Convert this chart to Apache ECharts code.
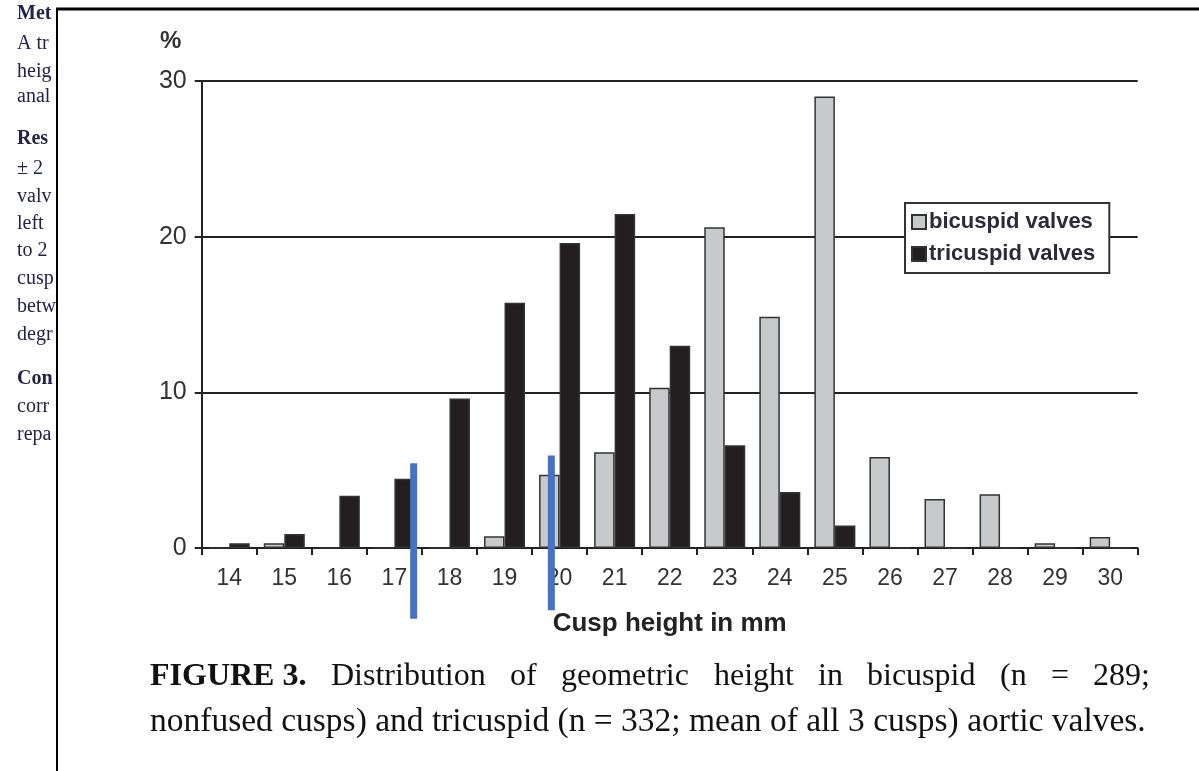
<!DOCTYPE html>
<html>
<head>
<meta charset="utf-8">
<script src="https://cdn.jsdelivr.net/npm/echarts@6/dist/echarts.min.js"></script>
<style>
html,body{margin:0;padding:0;background:#fff;}
#chart{width:1199px;height:771px;}
</style>
</head>
<body>
<div id="chart"></div>
<script>
// ---- data ----
var categories = ['14','15','16','17','18','19','20','21','22','23','24','25','26','27','28','29','30'];
var bicuspid  = [0, 0.3, 0, 0, 0, 0.75, 4.7, 6.15, 10.3, 20.6, 14.85, 29.0, 5.85, 3.15, 3.45, 0.3, 0.7];
var tricuspid = [0.3, 0.9, 3.35, 4.45, 9.6, 15.75, 19.6, 21.45, 13.0, 6.6, 3.6, 1.45, 0, 0, 0, 0, 0];
var yTicks = [0, 10, 20, 30];
// blue annotation lines: x in mm (axis units), y range in %
var markX   = [17.35, 19.85];
var markTop = [5.45, 5.95];
var markBot = [-4.55, -4.0];
var captionLine1 = ['FIGURE 3.', 'Distribution', 'of', 'geometric', 'height', 'in', 'bicuspid', '(n', '=', '289;'];
var captionLine2 = 'nonfused cusps) and tricuspid (n = 332; mean of all 3 cusps) aortic valves.';
var sideText = ['Met','A tr','heig','anal','Res','\u00b1 2','valv','left','to 2','cusp','betw','degr','Con','corr','repa'];

// ---- layout (not data) ----
var line1X = [150, 331, 510, 561, 714, 818, 867, 1000, 1051, 1150];
var sideY = [16, 46, 74, 99, 141, 171, 199, 226, 253, 281, 309, 337, 381, 409, 437];
var sideBold = {0:true, 4:true, 12:true};

var chart = echarts.init(document.getElementById('chart'));

var graphics = [];
sideText.forEach(function(t, i){
  graphics.push({type:'text', left:17, top:sideY[i]-12, z:1,
    style:{text:t, font:(sideBold[i]?'bold ':'')+'20px "Liberation Serif", serif', fill:'#22224a'}});
});
captionLine1.forEach(function(w, i){
  var last = i === captionLine1.length - 1;
  graphics.push({type:'text', x:line1X[i], y:677, z:1,
    style:{text:w, font:(i===0?'bold ':'')+'32px "Liberation Serif", serif', fill:'#111',
      textVerticalAlign:'middle', textAlign:last?'right':'left'}});
});
graphics.push({type:'text', x:150, y:722, z:1,
  style:{text:captionLine2, font:'33.5px "Liberation Serif", serif', fill:'#111', textVerticalAlign:'middle'}});
graphics.push({type:'line', z:5, shape:{x1:56, y1:9, x2:1199, y2:9}, style:{stroke:'#000', lineWidth:3}});
graphics.push({type:'line', z:5, shape:{x1:57, y1:8, x2:57, y2:771}, style:{stroke:'#000', lineWidth:2}});

var markSeries = markX.map(function(x, i){
  return {
    type:'line', xAxisIndex:1, yAxisIndex:0, clip:false, silent:true, z:10,
    symbol:'none', data:[[x, markBot[i]], [x, markTop[i]]],
    lineStyle:{color:'#4472c4', width:7, cap:'butt'}
  };
});

chart.setOption({
  animation:false,
  backgroundColor:'#fff',
  graphic:graphics,
  grid:{left:201.7, right:61.3, top:81, bottom:223, containLabel:false},
  legend:{
    orient:'vertical', left:905, top:203,
    data:['bicuspid valves','tricuspid valves'],
    icon:'rect', itemWidth:14, itemHeight:14, itemGap:10,
    padding:[8,14,8,6],
    backgroundColor:'#fff', borderColor:'#333', borderWidth:2,
    textStyle:{fontFamily:'"Liberation Sans", Arial, sans-serif', fontWeight:'bold', fontSize:22, color:'#2a2a3a', padding:[0,0,0,-2]}
  },
  xAxis:[{
    type:'category', data:categories, boundaryGap:true,
    axisLine:{lineStyle:{color:'#222', width:2}},
    axisTick:{show:true, length:7, lineStyle:{color:'#222', width:2}},
    axisLabel:{fontFamily:'"Liberation Sans Narrow", "Liberation Sans", Arial, sans-serif', fontSize:23, color:'#333', margin:19},
    name:'Cusp height in mm', nameLocation:'middle', nameGap:63,
    nameTextStyle:{fontFamily:'"Liberation Sans", Arial, sans-serif', fontWeight:'bold', fontSize:26, color:'#222'}
  },{
    type:'value', min:13.5, max:30.5, show:false
  }],
  yAxis:{
    type:'value', min:0, max:30, interval:10,
    axisLine:{show:true, lineStyle:{color:'#222', width:2}},
    axisTick:{show:true, length:7, lineStyle:{color:'#222', width:2}},
    axisLabel:{fontFamily:'"Liberation Sans", Arial, sans-serif', fontSize:25, color:'#333', margin:15,
      formatter:function(v){ return yTicks.indexOf(v) >= 0 ? String(v) : ''; }},
    splitLine:{show:true, lineStyle:{color:'#222', width:2}},
    name:'%', nameLocation:'end', nameGap:28,
    nameTextStyle:{fontFamily:'"Liberation Sans", Arial, sans-serif', fontWeight:'bold', fontSize:24, color:'#333', align:'center', padding:[0,62,0,0]}
  },
  series:[{
    name:'bicuspid valves', type:'bar', data:bicuspid, barWidth:20.5, barGap:'0%',
    itemStyle:{color:'#c8c9cb', borderColor:'#333', borderWidth:1.5}
  },{
    name:'tricuspid valves', type:'bar', data:tricuspid, barWidth:20.5, barGap:'0%',
    itemStyle:{color:'#231f20', borderColor:'#333', borderWidth:1.5}
  }].concat(markSeries)
});
</script>
</body>
</html>
